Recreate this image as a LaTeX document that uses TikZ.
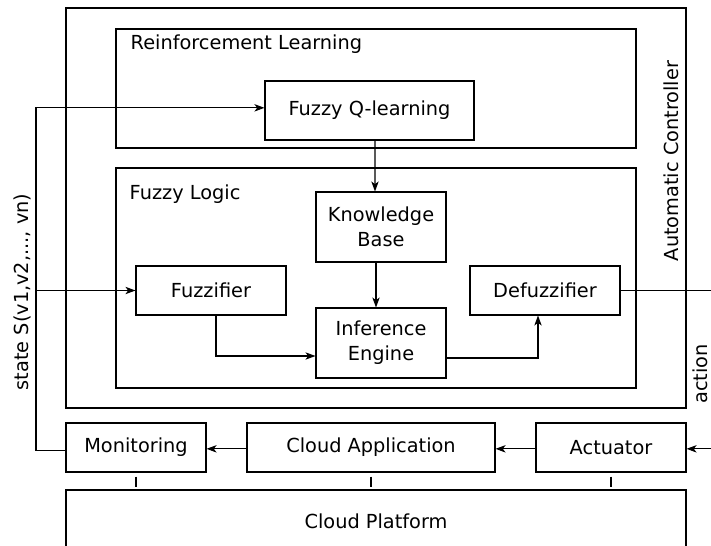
\documentclass[tikz,border=0pt]{standalone}
\usepackage{fontspec}
\setmainfont{DejaVu Sans}
\usetikzlibrary{arrows.meta}

\begin{document}
\begin{tikzpicture}[
    x=0.75pt, y=-0.75pt,
    every node/.style={font=\fontsize{14.5pt}{18.75pt}\selectfont},
    box/.style 2 args={                 % plain block, size in px
        draw, line width=0.8pt, align=center, inner sep=0pt,
        minimum width=#1*0.75pt, minimum height=#2*0.75pt
    },
    frame/.style 2 args={box={#1}{#2}, line width=1.5pt}, % thick outer frame
    flow/.style={line width=0.8pt,
        -{Stealth[length=7.5pt, width=5.5pt, inset=2pt]}},
    wire/.style={line width=0.8pt},
 ]
    \clip (0,0) rectangle (711,546);
    % ~~~ controller with its two groups ~~~~~~~~~~~~~~
    \node[frame={620}{400}] (ctrl) at (376,208) {};
    \node[box={520}{119}]   (rl)   at (376,88.5) {};
    \node[box={520}{220}]   (fl)   at (376,278) {};
    \node[anchor=base west] (rlname) at (126,50) {Reinforcement Learning};
    \node[anchor=base west] (flname) at (125,199) {Fuzzy Logic};
    \node[rotate=90] (ctrlname) at (671,161) {Automatic Controller};
    % ~~~ blocks inside ~~~~~~~~~~~~~~~~~~~~~~~~~~~~~~~
    \node[box={209}{59}]  (fql)    at (369.5,110.5) {Fuzzy Q-learning};
    \node[box={130}{70}]  (kb)     at (381,227)     {Knowledge\\Base};
    \node[box={150}{49}]  (fuzz)   at (211,290.5)   {Fuzzifier};
    \node[box={130}{70}]  (inf)    at (381,343)     {Inference\\Engine};
    \node[box={150}{49}]  (defuzz) at (545,290.5)   {Defuzzifier};
    % ~~~ cloud side ~~~~~~~~~~~~~~~~~~~~~~~~~~~~~~~~~~
    \node[box={140}{49}]  (mon)      at (136,447.5) {Monitoring};
    \node[box={248}{49}]  (app)      at (371,447.5) {Cloud Application};
    \node[box={150}{49}]  (act)      at (611,447.5) {Actuator};
    \node[box={620}{62}]  (platform) at (376,521)   {Cloud Platform};
    \foreach \n in {mon,app,act}
        \draw[wire] ([yshift=-3pt]\n.south) -- ([yshift=1.5pt]\n.south |- platform.north);
    % ~~~ connectors ~~~~~~~~~~~~~~~~~~~~~~~~~~~~~~~~~~
    \coordinate (tapL) at (36,200);
    \coordinate (tapR) at (725,380);
    \draw[flow] ([yshift=-2.5pt]mon.west) -| (tapL) |- ([yshift=2pt]fql.west);
    \draw[flow] (tapL |- fuzz.west) -- (fuzz.west);
    \draw[flow] ([xshift=4.1pt]fql.south) -- ([xshift=-4.5pt]kb.north);
    \draw[flow] ([xshift=-3.75pt]kb.south) -- ([xshift=-3.75pt]inf.north);
    \draw[flow] ([xshift=3.75pt]fuzz.south) |- ([yshift=-9.75pt]inf.west);
    \draw[flow] ([yshift=-11.25pt]inf.east) -| ([xshift=-5.25pt]defuzz.south);
    \draw[flow] (defuzz.east) -| (tapR) |- ([yshift=-1pt]act.east);
    \draw[flow] ([yshift=-1pt]act.west) -- ([yshift=-1pt]app.east);
    \draw[flow] ([yshift=-1pt]app.west) -- ([yshift=-1pt]mon.east);
    % ~~~ signal names ~~~~~~~~~~~~~~~~~~~~~~~~~~~~~~~~
    \node[rotate=90] (statename)  at (22,292)  {state S(v1,v2,..., vn)};
    \node[rotate=90] (actionname) at (700,374) {action};
\end{tikzpicture}
\end{document}
